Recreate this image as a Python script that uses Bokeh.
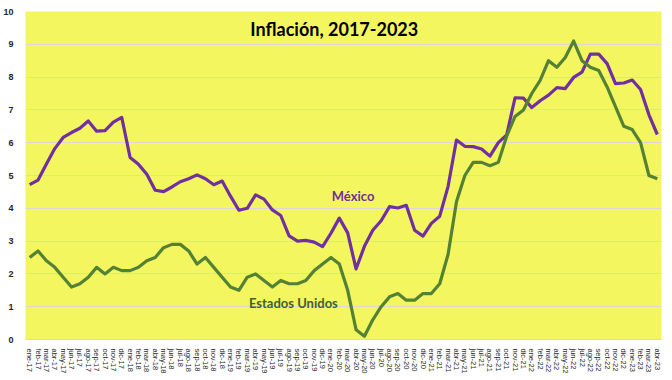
from bokeh.plotting import figure
from bokeh.models import FactorRange, Range1d, FixedTicker, Label
from bokeh.embed import file_html
from bokeh.resources import INLINE

months = ["ene", "feb", "mar", "abr", "may", "jun", "jul", "ago", "sep", "oct", "nov", "dic"]
labels = []
for yr in range(17, 24):
    for m in months:
        labels.append(f"{m}-{yr}")
labels = labels[:76]

mexico = [4.72, 4.86, 5.35, 5.82, 6.16, 6.31, 6.44, 6.66, 6.35, 6.37, 6.63, 6.77,
          5.55, 5.34, 5.04, 4.55, 4.51, 4.65, 4.81, 4.90, 5.02, 4.90, 4.72, 4.83,
          4.37, 3.94, 4.00, 4.41, 4.28, 3.95, 3.78, 3.16, 3.00, 3.02, 2.97, 2.83,
          3.24, 3.70, 3.25, 2.15, 2.84, 3.33, 3.62, 4.05, 4.01, 4.09, 3.33, 3.15,
          3.54, 3.76, 4.67, 6.08, 5.89, 5.88, 5.81, 5.59, 6.00, 6.24, 7.37, 7.36,
          7.07, 7.28, 7.45, 7.68, 7.65, 7.99, 8.15, 8.70, 8.70, 8.41, 7.80, 7.82,
          7.91, 7.62, 6.85, 6.25]

usa = [2.5, 2.7, 2.4, 2.2, 1.9, 1.6, 1.7, 1.9, 2.2, 2.0, 2.2, 2.1,
       2.1, 2.2, 2.4, 2.5, 2.8, 2.9, 2.9, 2.7, 2.3, 2.5, 2.2, 1.9,
       1.6, 1.5, 1.9, 2.0, 1.8, 1.6, 1.8, 1.7, 1.7, 1.8, 2.1, 2.3,
       2.5, 2.3, 1.5, 0.3, 0.1, 0.6, 1.0, 1.3, 1.4, 1.2, 1.2, 1.4,
       1.4, 1.7, 2.6, 4.2, 5.0, 5.4, 5.4, 5.3, 5.4, 6.2, 6.8, 7.0,
       7.5, 7.9, 8.5, 8.3, 8.6, 9.1, 8.5, 8.3, 8.2, 7.7, 7.1, 6.5,
       6.4, 6.0, 5.0, 4.9]

y_ticks = list(range(0, 11))

p = figure(frame_width=636, frame_height=328, x_range=FactorRange(*labels, range_padding=0),
           y_range=Range1d(0, 10), output_backend="svg", toolbar_location=None,
           min_border_left=19, min_border_right=2, min_border_top=11, min_border_bottom=0)

p.background_fill_color = "#F4F65F"
p.border_fill_color = "white"
p.outline_line_color = None

p.line(labels, mexico, line_color="#7030A0", line_width=3.2, line_join="round")
p.line(labels, usa, line_color="#548235", line_width=3.2, line_join="round")

p.yaxis.ticker = FixedTicker(ticks=y_ticks)
p.yaxis.axis_line_color = None
p.yaxis.major_tick_line_color = None
p.yaxis.minor_tick_line_color = None
p.yaxis.major_label_text_font = "Liberation Sans"
p.yaxis.major_label_text_font_style = "bold"
p.yaxis.major_label_text_font_size = "9px"
p.yaxis.major_label_text_color = "#262626"
p.yaxis.major_label_standoff = 6

p.xaxis.axis_line_color = "#D9D9D9"
p.xaxis.major_tick_line_color = None
p.xaxis.major_label_orientation = "vertical"
p.xaxis.major_label_text_font = "Liberation Sans"
p.xaxis.major_label_text_font_size = "7.5px"
p.xaxis.major_label_text_color = "#262626"
p.xaxis.major_label_standoff = 3

p.xgrid.grid_line_color = None
p.ygrid.grid_line_color = "#D9D9D9"
p.ygrid.grid_line_width = 1

p.add_layout(Label(x=36.9, y=9.48, text="Inflación, 2017-2023", text_align="center",
                   text_baseline="middle", text_font="Lato", text_font_style="bold",
                   text_font_size="18px", text_color="black"))
p.add_layout(Label(x=36.6, y=4.36, text="México", text_align="left",
                   text_baseline="middle", text_font="Lato", text_font_style="bold",
                   text_font_size="13px", text_color="#7030A0"))
p.add_layout(Label(x=26.7, y=1.1, text="Estados Unidos", text_align="left",
                   text_baseline="middle", text_font="Lato", text_font_style="bold",
                   text_font_size="13px", text_color="#3F6326"))

open("out.html", "w").write(file_html(p, INLINE))
